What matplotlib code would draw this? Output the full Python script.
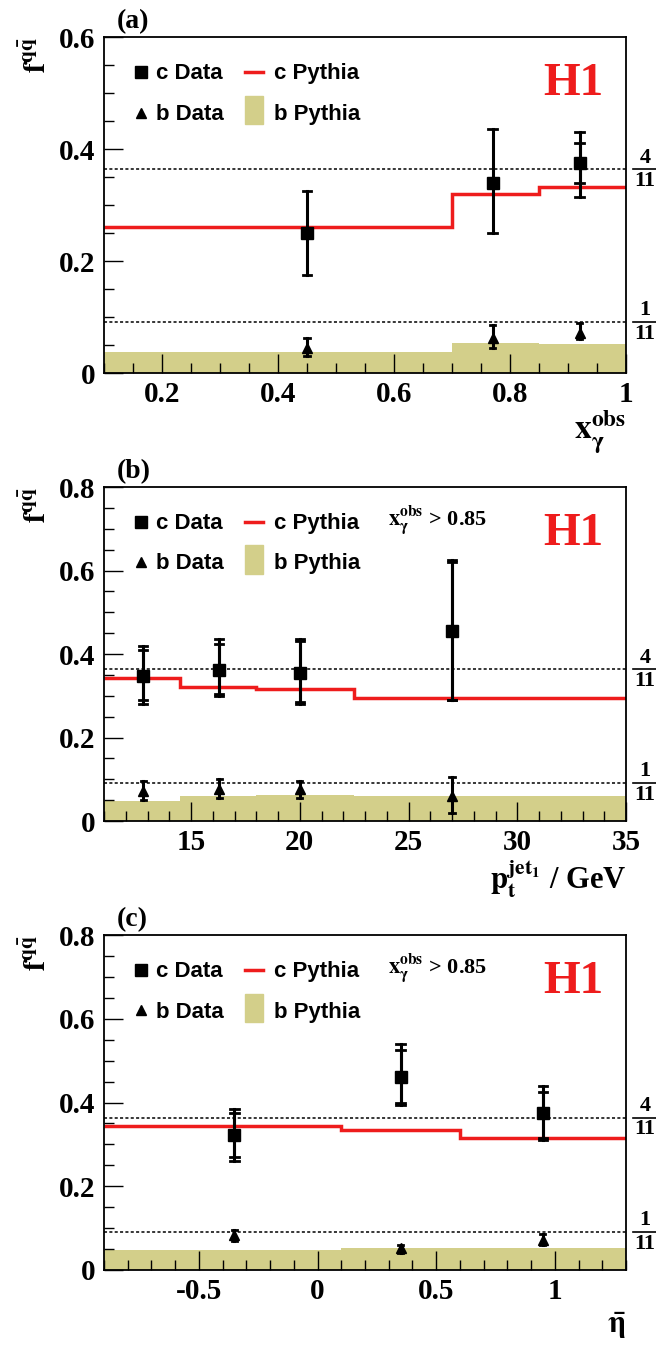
import matplotlib
matplotlib.use("Agg")
import matplotlib.pyplot as plt
from matplotlib.ticker import MultipleLocator

plt.rcParams["mathtext.fontset"] = "stix"

RED = "#ee1c1c"
OLIVE = "#d3cf8a"
SERIF = "Liberation Serif"
SANS = "Liberation Sans"

# panel (a): x_gamma^obs
a_edges = [0.1, 0.7, 0.85, 1.0]
a_c_pythia = [0.26, 0.32, 0.333]
a_b_pythia = [0.037, 0.053, 0.052]
a_x = [0.45, 0.77, 0.92]
a_c = [0.25, 0.34, 0.375]
a_c_stat = [None, None, (0.34, 0.41)]
a_c_tot = [(0.175, 0.325), (0.25, 0.435), (0.315, 0.43)]
a_b = [0.045, 0.062, 0.072]
a_b_tot = [(0.03, 0.062), (0.045, 0.085), (0.06, 0.09)]

# panel (b): pt jet1
b_edges = [11, 14.5, 18, 22.5, 35]
b_c_pythia = [0.342, 0.32, 0.317, 0.295]
b_b_pythia = [0.048, 0.06, 0.063, 0.06]
b_x = [12.8, 16.3, 20.0, 27.0]
b_c = [0.348, 0.362, 0.355, 0.455]
b_c_stat = [(0.29, 0.41), (0.305, 0.425), (0.285, 0.43), (0.29, 0.62)]
b_c_tot = [(0.28, 0.42), (0.3, 0.435), (0.28, 0.435), (0.29, 0.625)]
b_b = [0.072, 0.076, 0.076, 0.06]
b_b_tot = [(0.05, 0.095), (0.055, 0.1), (0.055, 0.095), (0.02, 0.105)]

# panel (c): eta bar
c_edges = [-0.9, 0.1, 0.6, 1.3]
c_c_pythia = [0.345, 0.335, 0.315]
c_b_pythia = [0.047, 0.052, 0.052]
c_x = [-0.35, 0.35, 0.95]
c_c = [0.322, 0.462, 0.375]
c_c_stat = [(0.27, 0.375), (0.4, 0.525), (0.315, 0.425)]
c_c_tot = [(0.26, 0.385), (0.395, 0.54), (0.31, 0.44)]
c_b = [0.083, 0.052, 0.072]
c_b_tot = [(0.07, 0.095), (0.04, 0.06), (0.06, 0.085)]


def draw_errors(ax, x, ranges, capw):
    for xi, r in zip(x, ranges):
        if r is None:
            continue
        lo, hi = r
        ax.plot([xi, xi], [lo, hi], color="black", lw=2.2, zorder=4)
        for y in (lo, hi):
            ax.plot([xi - capw, xi + capw], [y, y], color="black", lw=2, zorder=4)


def panel(ax, label, edges, cp, bp, x, c, cst, ctot, b, btot, xlim, ylim,
          xmajor, xminor, ymajor, cut_text=False):
    span = xlim[1] - xlim[0]
    capw = span * 0.008
    ax.stairs(bp, edges, fill=True, color=OLIVE, lw=0, zorder=1)
    ax.stairs(cp, edges, color=RED, lw=2.5, zorder=2, baseline=None)
    for yl in (4 / 11, 1 / 11):
        ax.axhline(yl, color="black", ls=(0, (2, 1.5)), lw=1.1, zorder=3)
    draw_errors(ax, x, ctot, capw)
    draw_errors(ax, x, cst, capw)
    ax.plot(x, c, "s", color="black", ms=8, zorder=5)
    draw_errors(ax, x, btot, capw * 0.6)
    ax.plot(x, b, "^", color="black", ms=7, zorder=5)

    ax.set_xlim(xlim)
    ax.set_ylim(ylim)
    ax.xaxis.set_major_locator(MultipleLocator(xmajor))
    ax.xaxis.set_minor_locator(MultipleLocator(xminor))
    ax.yaxis.set_major_locator(MultipleLocator(ymajor))
    ax.yaxis.set_minor_locator(MultipleLocator(ymajor / 4))
    ax.tick_params(which="major", direction="in", length=14, width=1, pad=6)
    ax.tick_params(which="minor", direction="in", length=7, width=1)
    ax.xaxis.set_major_formatter(plt.FuncFormatter(lambda v, p: f"{v:g}"))
    ax.yaxis.set_major_formatter(plt.FuncFormatter(lambda v, p: f"{v:g}"))
    for lab in ax.get_xticklabels() + ax.get_yticklabels():
        lab.set_fontfamily(SERIF)
        lab.set_fontweight("bold")
        lab.set_fontsize(21)
    for s in ax.spines.values():
        s.set_linewidth(1.3)

    ax.text(0.025, 1.045, label, transform=ax.transAxes, fontfamily=SERIF,
            fontweight="bold", fontsize=20, ha="left", va="center")
    ax.text(-0.13, 1.0, r"$\mathbf{f^{q\bar{q}}}$", transform=ax.transAxes,
            rotation=90, fontsize=22, ha="center", va="top")
    ax.text(0.9, 0.86, "H1", transform=ax.transAxes, color=RED, fontfamily=SERIF,
            fontweight="bold", fontsize=34, ha="center", va="center")

    # legend
    tf = dict(transform=ax.transAxes, fontfamily=SANS, fontweight="bold",
              fontsize=16, va="center")
    ax.plot(0.07, 0.895, "s", color="black", ms=8, transform=ax.transAxes, clip_on=False)
    ax.text(0.1, 0.89, "c Data", **tf)
    ax.plot(0.07, 0.775, "^", color="black", ms=7, transform=ax.transAxes, clip_on=False)
    ax.text(0.1, 0.77, "b Data", **tf)
    ax.plot([0.27, 0.305], [0.895, 0.895], color=RED, lw=2.5, transform=ax.transAxes)
    ax.text(0.325, 0.89, "c Pythia", **tf)
    ax.add_patch(plt.Rectangle((0.27, 0.74), 0.035, 0.085, color=OLIVE,
                               transform=ax.transAxes, clip_on=False))
    ax.text(0.325, 0.77, "b Pythia", **tf)
    if cut_text:
        ax.text(0.545, 0.9, r"$\mathbf{x_\gamma^{obs}}$ > 0.85", transform=ax.transAxes,
                fontfamily=SERIF, fontweight="bold", fontsize=16, va="center")

    # fraction labels on the right
    for yv, num in ((4 / 11, "4"), (1 / 11, "1")):
        yf = (yv - ylim[0]) / (ylim[1] - ylim[0])
        ax.text(1.036, yf + 0.005, num, transform=ax.transAxes, fontfamily=SERIF,
                fontweight="bold", fontsize=16, ha="center", va="bottom")
        ax.plot([1.014, 1.058], [yf, yf], color="black", lw=1.2,
                transform=ax.transAxes, clip_on=False)
        ax.text(1.036, yf - 0.005, "11", transform=ax.transAxes, fontfamily=SERIF,
                fontweight="bold", fontsize=16, ha="center", va="top")


fig = plt.figure(figsize=(6.56, 13.46), dpi=100)
W, H = 656, 1346
axes = []
for top, bot in ((37, 373), (487, 821), (935, 1270)):
    axes.append(fig.add_axes([104 / W, 1 - bot / H, (626 - 104) / W, (bot - top) / H]))

panel(axes[0], "(a)", a_edges, a_c_pythia, a_b_pythia, a_x, a_c, a_c_stat, a_c_tot,
      a_b, a_b_tot, (0.1, 1.0), (0, 0.6), 0.2, 0.05, 0.2)
panel(axes[1], "(b)", b_edges, b_c_pythia, b_b_pythia, b_x, b_c, b_c_stat, b_c_tot,
      b_b, b_b_tot, (11, 35), (0, 0.8), 5, 1, 0.2, cut_text=True)
panel(axes[2], "(c)", c_edges, c_c_pythia, c_b_pythia, c_x, c_c, c_c_stat, c_c_tot,
      c_b, c_b_tot, (-0.9, 1.3), (0, 0.8), 0.5, 0.1, 0.2, cut_text=True)

axes[0].text(1.0, -0.175, r"$\mathbf{x_\gamma^{obs}}$", transform=axes[0].transAxes,
             fontsize=24, ha="right", va="center")
axes[1].text(1.0, -0.175, r"$\mathbf{p_t^{jet_1}}$ / GeV", transform=axes[1].transAxes,
             fontfamily=SERIF, fontweight="bold", fontsize=22, ha="right", va="center")
axes[2].text(1.0, -0.165, r"$\mathbf{\bar{\eta}}$", transform=axes[2].transAxes,
             fontsize=22, ha="right", va="center")

fig.savefig("out.png", dpi=100)
